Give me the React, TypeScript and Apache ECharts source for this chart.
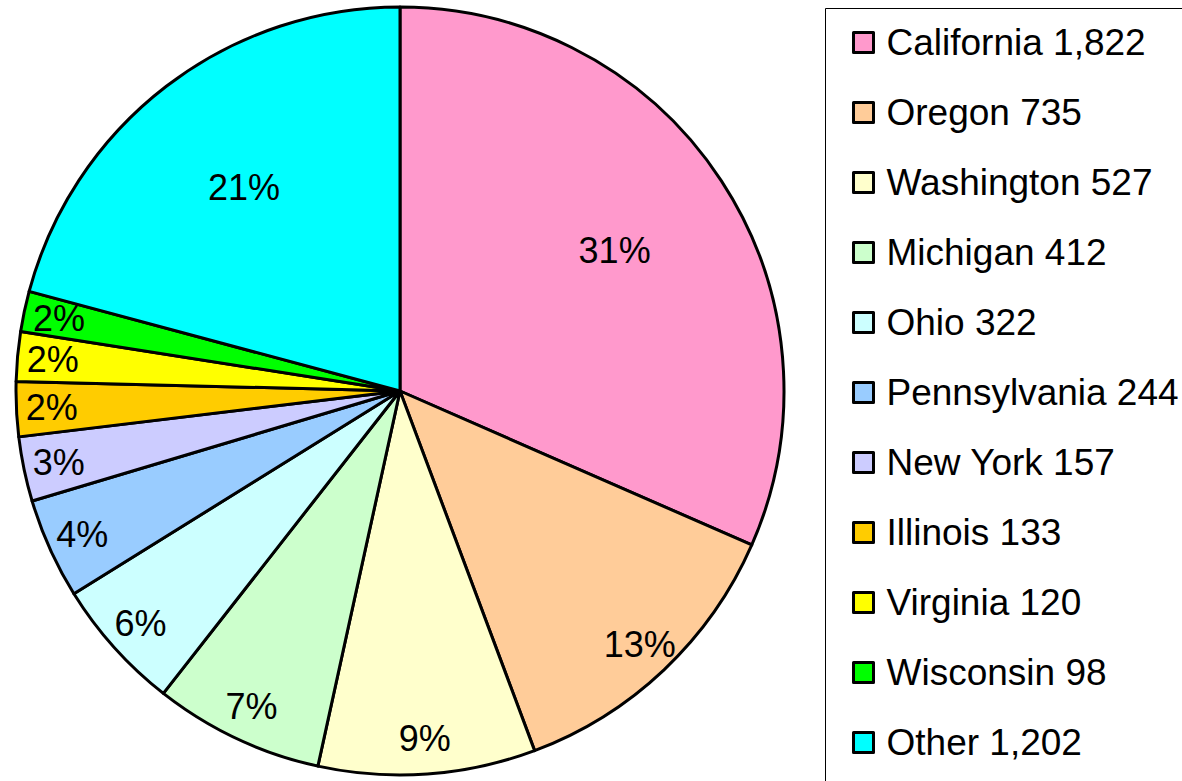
import React, { useEffect, useRef } from 'react';
import * as echarts from 'echarts';

const categories = ['California', 'Oregon', 'Washington', 'Michigan', 'Ohio', 'Pennsylvania', 'New York', 'Illinois', 'Virginia', 'Wisconsin', 'Other'];
const values = [1822, 735, 527, 412, 322, 244, 157, 133, 120, 98, 1202];
const colors = ['#FF99CC', '#FFCC99', '#FFFFCC', '#CCFFCC', '#CCFFFF', '#99CCFF', '#CCCCFF', '#FFCC00', '#FFFF00', '#00FF00', '#00FFFF'];

const FONT = '"Liberation Sans", Arial, Helvetica, sans-serif';
const CENTER = [400, 391];
const R = 384;

export default function App() {
  const ref = useRef<HTMLDivElement>(null);
  useEffect(() => {
    if (!ref.current) return;
    const chart = echarts.init(ref.current, null, { renderer: 'svg' });
    const total = values.reduce((a, b) => a + b, 0);
    const isBig = (i: number) => values[i] / total > 0.15;

    const labelSeries = (id: string, r0: number, show: (i: number) => boolean) => ({
      type: 'pie',
      id,
      center: CENTER,
      radius: [r0, R],
      startAngle: 90,
      clockwise: true,
      silent: true,
      percentPrecision: 0,
      z: 3,
      avoidLabelOverlap: false,
      itemStyle: { color: 'rgba(0,0,0,0)', borderWidth: 0 },
      emphasis: { disabled: true },
      labelLine: { show: false },
      label: {
        position: 'inner',
        formatter: (p: any) => `${p.percent}%`,
        fontSize: 36,
        color: '#000',
        fontFamily: FONT,
      },
      data: categories.map((name, i) => ({ name, value: values[i], label: { show: show(i) } })),
    });

    chart.setOption({
      animation: false,
      backgroundColor: '#fff',
      color: colors,
      legend: {
        orient: 'vertical',
        left: 847,
        top: 19,
        itemWidth: 20,
        itemHeight: 20,
        itemGap: 33,
        icon: 'rect',
        selectedMode: false,
        itemStyle: { borderColor: '#000', borderWidth: 3 },
        data: categories,
        formatter: (name: string) => {
          const i = categories.indexOf(name);
          return `${name} ${values[i].toLocaleString('en-US')}`;
        },
        textStyle: {
          fontFamily: FONT,
          fontSize: 37,
          color: '#000',
          padding: [0, 0, 0, 8],
        },
      },
      graphic: [
        {
          type: 'rect',
          shape: { x: 825.5, y: 8.5, width: 600, height: 900 },
          style: { fill: 'none', stroke: '#000', lineWidth: 1 },
          silent: true,
        },
      ],
      series: [
        {
          type: 'pie',
          id: 'main',
          center: CENTER,
          radius: [0, R],
          startAngle: 90,
          clockwise: true,
          avoidLabelOverlap: false,
          label: { show: false },
          labelLine: { show: false },
          emphasis: { disabled: true },
          itemStyle: { borderColor: '#000', borderWidth: 3 },
          data: categories.map((name, i) => ({ name, value: values[i] })),
        },
        labelSeries('labelsBig', R * 0.32, (i) => isBig(i)),
        labelSeries('labelsSmall', R * 0.8, (i) => !isBig(i)),
      ],
    } as any);
    return () => chart.dispose();
  }, []);
  return (
    <div
      ref={ref}
      style={{ position: 'fixed', left: 0, top: 0, width: 1182, height: 781, background: '#fff' }}
    />
  );
}
